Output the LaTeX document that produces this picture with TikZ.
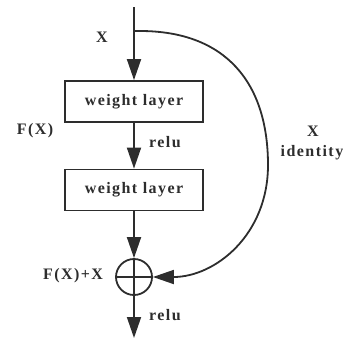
\documentclass[tikz,border=0pt]{standalone}
\usepackage{fontspec}
\setmainfont{Liberation Serif}[LetterSpace=9]
\usetikzlibrary{arrows.meta}
\begin{document}
\begin{tikzpicture}[x=1pt,y=-1pt,
  line width=1.8pt, draw={rgb,255:red,45;green,45;blue,45},
  lbl/.style={font=\bfseries\fontsize{16}{18}\selectfont, text={rgb,255:red,45;green,45;blue,45}, inner sep=0pt},
  layerbox/.style={draw, minimum width=138pt, minimum height=41pt, inner sep=0pt, font=\bfseries\fontsize{16}{18}\selectfont, text={rgb,255:red,45;green,45;blue,45}},
  arr/.style={-{Triangle[length=21pt,width=14pt]}}]
\useasboundingbox (0,0) rectangle (343,341);
\coordinate (top) at (134,7);
\coordinate (branch) at (134,31);
\coordinate (out) at (134,338);
\node[layerbox] (w1) at (134,101.5) {weight layer};
\node[layerbox] (w2) at (134,190) {weight layer};
\node[draw, circle, minimum size=36pt, inner sep=0pt] (sum) at (134,277) {};
\draw (sum.north) -- (sum.south) (sum.west) -- (sum.east);
\draw[arr] (top) -- (w1.north);
\draw[arr] (w1.south) -- (w2.north);
\draw[arr] (w2.south) -- (sum.north);
\draw[arr] (sum.south) -- (out);
\draw[arr] (branch) -- (140,31) .. controls (225,31) and (268,82) .. (268,165)
   .. controls (268,235) and (215,277) .. (sum.east);
\node[lbl] (lx) at (102,37) {X};
\node[lbl] (lfx) at (35,131) {F(X)};
\node[lbl] (lr1) at (165,142) {relu};
\node[lbl] (lx2) at (313,131) {X};
\node[lbl] (lid) at (312,153) {identity};
\node[lbl] (lsum) at (73,276) {F(X)+X};
\node[lbl] (lr2) at (165,315) {relu};
\end{tikzpicture}
\end{document}
